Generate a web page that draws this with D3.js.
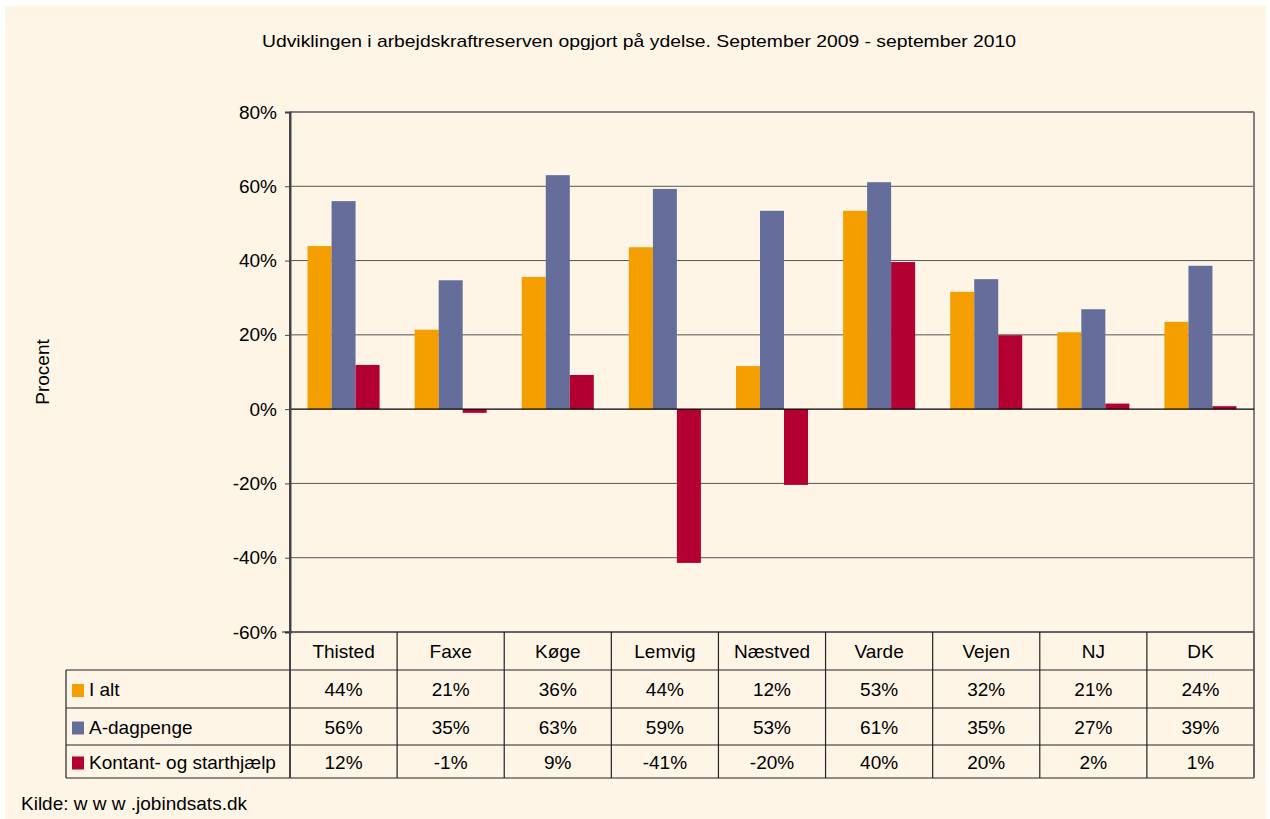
<!DOCTYPE html>
<html>
<head>
<meta charset="utf-8">
<script src="https://cdn.jsdelivr.net/npm/d3@7"></script>
<style>
  body { margin: 0; background: #fff; }
  svg { display: block; font-family: "Liberation Sans", Arial, sans-serif; }
</style>
</head>
<body>
<svg width="1270" height="819"></svg>
<script>
// data
var categories = ["Thisted", "Faxe", "Køge", "Lemvig", "Næstved", "Varde", "Vejen", "NJ", "DK"];
var seriesNames = ["I alt", "A-dagpenge", "Kontant- og starthjælp"];
var iAlt = [43.9, 21.4, 35.6, 43.6, 11.6, 53.4, 31.6, 20.7, 23.5];
var aDagpenge = [56.0, 34.7, 63.0, 59.3, 53.4, 61.1, 35.0, 26.9, 38.6];
var kontant = [11.9, -1.0, 9.2, -41.4, -20.4, 39.6, 19.9, 1.5, 0.8];
var yTicks = [-60, -40, -20, 0, 20, 40, 60, 80];
var colors = ["#F59E00", "#656E9B", "#B30033"];

var series = [iAlt, aDagpenge, kontant];

var svg = d3.select("svg");
var margin = {top: 112, left: 290, right: 16},
    plotW = 1254 - margin.left,
    plotBottom = 632;

svg.append("rect").attr("x", 5).attr("y", 6).attr("width", 1261).attr("height", 813)
  .attr("fill", "#FFF5E7");

svg.append("text").attr("x", 639).attr("y", 47).attr("text-anchor", "middle")
  .attr("font-size", 17).attr("fill", "#000")
  .attr("textLength", 754).attr("lengthAdjust", "spacingAndGlyphs")
  .text("Udviklingen i arbejdskraftreserven opgjort på ydelse. September 2009 - september 2010");

var x = d3.scaleBand().domain(categories).range([margin.left, margin.left + plotW]).paddingInner(0).paddingOuter(0);
var x1 = d3.scaleBand().domain(d3.range(3)).range([0, x.bandwidth()]).paddingOuter(0.73).paddingInner(0);
var y = d3.scaleLinear().domain([-60, 80]).range([plotBottom, margin.top]);

// gridlines
svg.append("g").selectAll("line").data(yTicks.filter(function(d){ return d !== 0; }))
  .enter().append("line")
  .attr("x1", margin.left).attr("x2", margin.left + plotW)
  .attr("y1", function(d){ return y(d); }).attr("y2", function(d){ return y(d); })
  .attr("stroke", function(d){ return d === 80 ? "#808080" : "#555"; })
  .attr("stroke-width", function(d){ return d === 80 ? 2 : 1; });

// right border of plot
svg.append("line").attr("x1", margin.left + plotW).attr("x2", margin.left + plotW)
  .attr("y1", y(80)).attr("y2", plotBottom).attr("stroke", "#808080").attr("stroke-width", 2);

// bars
var groups = svg.append("g").selectAll("g").data(categories).enter().append("g")
  .attr("transform", function(d){ return "translate(" + x(d) + ",0)"; });
groups.selectAll("rect").data(function(d, i){ return series.map(function(s, k){ return {k: k, v: s[i]}; }); })
  .enter().append("rect")
  .attr("x", function(d){ return x1(d.k); })
  .attr("width", x1.bandwidth())
  .attr("y", function(d){ return y(Math.max(0, d.v)); })
  .attr("height", function(d){ return Math.abs(y(d.v) - y(0)); })
  .attr("fill", function(d){ return colors[d.k]; });

// zero line
svg.append("line").attr("x1", margin.left).attr("x2", margin.left + plotW)
  .attr("y1", y(0)).attr("y2", y(0)).attr("stroke", "#000").attr("stroke-width", 1.2);

// y axis
var yAxis = svg.append("g").attr("transform", "translate(" + margin.left + ",0)")
  .call(d3.axisLeft(y).tickValues(yTicks).tickSize(5).tickPadding(8)
    .tickFormat(function(d){ return d + "%"; }));
yAxis.select(".domain").attr("stroke", "#444").attr("stroke-width", 2);
yAxis.selectAll(".tick line").attr("stroke", "#444");
yAxis.selectAll("text").attr("font-size", 19).attr("fill", "#000")
  .attr("font-family", "Liberation Sans, Arial, sans-serif");

svg.append("text").attr("transform", "translate(49,372) rotate(-90)")
  .attr("text-anchor", "middle").attr("font-size", 19).text("Procent");

// data table
var rowY = [632, 670, 708, 745, 778];
var tableLeft = 66;
var tbl = svg.append("g").attr("stroke", "#222").attr("stroke-width", 1.2);
tbl.append("line").attr("x1", margin.left - 8).attr("x2", margin.left + plotW)
  .attr("y1", rowY[0]).attr("y2", rowY[0]);
rowY.slice(1).forEach(function(ry){
  tbl.append("line").attr("x1", tableLeft).attr("x2", margin.left + plotW).attr("y1", ry).attr("y2", ry);
});
tbl.append("line").attr("x1", tableLeft).attr("x2", tableLeft).attr("y1", rowY[1]).attr("y2", rowY[4]);
tbl.append("line").attr("x1", margin.left).attr("x2", margin.left).attr("y1", y(80)).attr("y2", rowY[4])
  .attr("stroke", "#444").attr("stroke-width", 2);
categories.forEach(function(c){
  var xe = x(c) + x.bandwidth();
  tbl.append("line").attr("x1", xe).attr("x2", xe).attr("y1", rowY[0]).attr("y2", rowY[4])
    .attr("stroke", xe > 1250 ? "#666" : "#222").attr("stroke-width", xe > 1250 ? 2 : 1.2);
});

// header labels
svg.append("g").selectAll("text").data(categories).enter().append("text")
  .attr("x", function(d){ return x(d) + x.bandwidth() / 2; })
  .attr("y", (rowY[0] + rowY[1]) / 2 + 7)
  .attr("text-anchor", "middle").attr("font-size", 19).text(function(d){ return d; });

var fmt = function(v){ return Math.round(v) + "%"; };
series.forEach(function(s, k){
  var cy = (rowY[k + 1] + rowY[k + 2]) / 2;
  svg.append("rect").attr("x", 72).attr("y", cy - 5).attr("width", 12).attr("height", 13)
    .attr("fill", colors[k]);
  svg.append("text").attr("x", 89).attr("y", cy + 7).attr("font-size", 19).text(seriesNames[k]);
  svg.append("g").selectAll("text").data(s).enter().append("text")
    .attr("x", function(d, i){ return x(categories[i]) + x.bandwidth() / 2; })
    .attr("y", cy + 7).attr("text-anchor", "middle").attr("font-size", 19)
    .text(function(d){ return fmt(d); });
});

svg.append("text").attr("x", 21).attr("y", 810).attr("font-size", 19).text("Kilde: w w w .jobindsats.dk");
</script>
</body>
</html>
